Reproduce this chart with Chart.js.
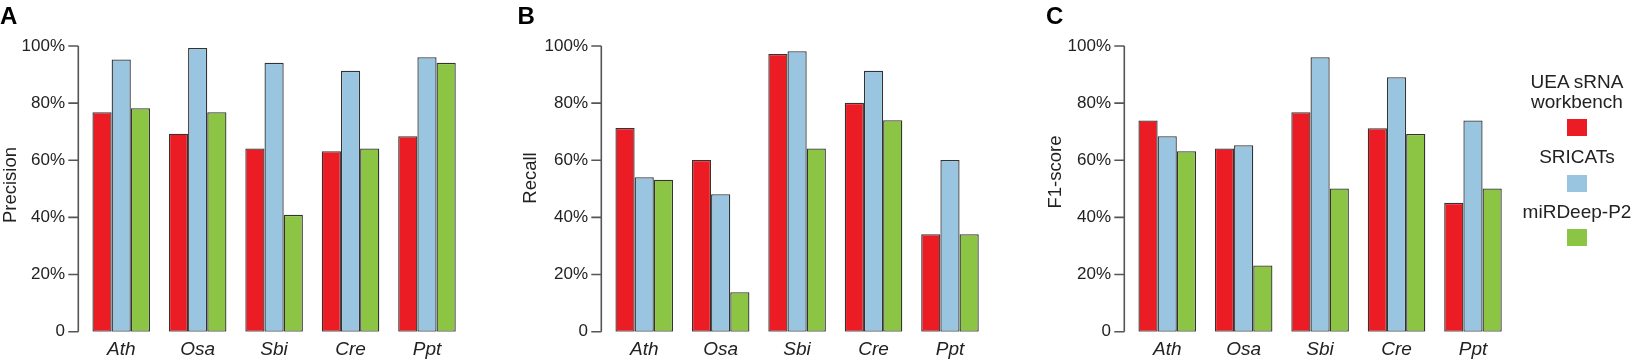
<!DOCTYPE html>
<html>
<head>
<meta charset="utf-8">
<script src="https://cdn.jsdelivr.net/npm/chart.js@4.4.1/dist/chart.umd.min.js"></script>
<style>
  html, body { margin: 0; padding: 0; background: #fff; }
  body { width: 1639px; height: 360px; position: relative; overflow: hidden;
         font-family: "Liberation Sans", Arial, sans-serif; color: #222; }
  .panel { position: absolute; top: 0; width: 523px; height: 360px; }
  .letter { position: absolute; top: 3.7px; font-weight: bold; font-size: 24px; line-height: 24px; color: #000; }
  .ytitle { position: absolute; font-size: 18.5px; line-height: 18.5px; white-space: nowrap;
            transform: translate(-50%, -50%) rotate(-90deg); }
  .legend-text { position: absolute; font-size: 19px; line-height: 19px; white-space: nowrap;
                 transform: translateX(-50%); }
  .swatch { position: absolute; width: 20px; height: 17px; }
</style>
</head>
<body>

<canvas id="precisionChart" class="panel" style="left:0px" width="523" height="360"></canvas>
<canvas id="recallChart" class="panel" style="left:523px" width="523" height="360"></canvas>
<canvas id="f1Chart" class="panel" style="left:1046px" width="523" height="360"></canvas>

<div class="letter" style="left:0px">A</div>
<div class="letter" style="left:517.5px">B</div>
<div class="letter" style="left:1046px">C</div>

<div class="ytitle" style="left:9.5px; top:185px">Precision</div>
<div class="ytitle" style="left:529.7px; top:177.5px">Recall</div>
<div class="ytitle" style="left:1055px; top:172px">F1-score</div>

<div id="legend"></div>

<script>
// ---- data -------------------------------------------------------------
const species = ['Ath', 'Osa', 'Sbi', 'Cre', 'Ppt'];
const methods = ['UEA sRNA workbench', 'SRICATs', 'miRDeep-P2'];
const tickLabels = ['0', '20%', '40%', '60%', '80%', '100%'];

// Precision (%)
const precisionUEA     = [76.8, 69.3, 64.1, 63.2, 68.4];
const precisionSRICATs = [95.3, 99.3, 94.1, 91.3, 96.1];
const precisionMiRDeep = [78.2, 76.8, 40.9, 64.1, 94.1];

// Recall (%)
const recallUEA     = [71.3, 60.1, 97.2, 80.1, 34.1];
const recallSRICATs = [54.1, 48.1, 98.2, 91.3, 60.1];
const recallMiRDeep = [53.2, 13.8, 64.1, 74.0, 34.1];

// F1-score (%)
const f1UEA     = [73.9, 64.1, 76.8, 71.2, 45.1];
const f1SRICATs = [68.4, 65.3, 96.1, 89.1, 73.9];
const f1MiRDeep = [63.2, 23.2, 50.1, 69.2, 50.1];

const barColors = ['#EC1C24', '#99C5E1', '#8CC444'];
const fontFamily = '"Liberation Sans", Arial, sans-serif';

// R-style detached y axis: line from 0 to 100 with outward ticks
const axisLinePlugin = {
    id: 'axisLine',
    afterDraw(chart) {
        const { ctx, chartArea, scales: { y } } = chart;
        const x = chartArea.left - 4.7;
        ctx.save();
        ctx.strokeStyle = '#555';
        ctx.lineWidth = 1.6;
        ctx.beginPath();
        ctx.moveTo(x, y.getPixelForValue(0));
        ctx.lineTo(x, y.getPixelForValue(100));
        y.ticks.forEach(t => {
            const py = y.getPixelForValue(t.value);
            ctx.moveTo(x - 10, py);
            ctx.lineTo(x, py);
        });
        ctx.stroke();
        ctx.restore();
    }
};

function createPanel(canvasId, seriesList) {
    const ctx = document.getElementById(canvasId);
    return new Chart(ctx, {
        type: 'bar',
        data: {
            labels: species,
            datasets: seriesList.map((vals, i) => ({
                label: methods[i],
                data: vals,
                backgroundColor: barColors[i],
                borderColor: '#333',
                borderWidth: 1.3,
                borderSkipped: false
            }))
        },
        options: {
            responsive: false,
            animation: false,
            layout: { padding: { top: 46, right: 57.8, left: 0, bottom: 0 } },
            datasets: { bar: { categoryPercentage: 0.753, barPercentage: 1 } },
            plugins: { legend: { display: false }, tooltip: { enabled: false } },
            scales: {
                x: {
                    grid: { display: false, drawTicks: false },
                    border: { display: false },
                    ticks: {
                        font: { family: fontFamily, size: 19, style: 'italic' },
                        color: '#222',
                        padding: 7
                    },
                    afterFit: s => { s.height = 28.3; }
                },
                y: {
                    min: 0,
                    max: 100,
                    grid: { display: false, drawTicks: false },
                    border: { display: false },
                    ticks: {
                        stepSize: 20,
                        padding: 18,
                        font: { family: fontFamily, size: 17 },
                        color: '#222',
                        callback: (v, i) => tickLabels[i]
                    },
                    afterFit: s => { s.width = 83; }
                }
            }
        },
        plugins: [axisLinePlugin]
    });
}

createPanel('precisionChart', [precisionUEA, precisionSRICATs, precisionMiRDeep]);
createPanel('recallChart', [recallUEA, recallSRICATs, recallMiRDeep]);
createPanel('f1Chart', [f1UEA, f1SRICATs, f1MiRDeep]);

// ---- legend (stacked, centred, right of panel C) ------------------------
const legendLines = [['UEA sRNA', 'workbench'], ['SRICATs'], ['miRDeep-P2']];
const legendTextTops = [[72.2, 91.6], [147.2], [202.2]];
const legendSwatchTops = [119.3, 175, 229.3];
const legendX = 1577;
const legendEl = document.getElementById('legend');
legendLines.forEach((lines, i) => {
    lines.forEach((txt, j) => {
        const d = document.createElement('div');
        d.className = 'legend-text';
        d.style.left = legendX + 'px';
        d.style.top = legendTextTops[i][j] + 'px';
        d.textContent = txt;
        legendEl.appendChild(d);
    });
    const sw = document.createElement('div');
    sw.className = 'swatch';
    sw.style.left = (legendX - 10.5) + 'px';
    sw.style.top = legendSwatchTops[i] + 'px';
    sw.style.background = barColors[i];
    legendEl.appendChild(sw);
});
</script>
</body>
</html>
